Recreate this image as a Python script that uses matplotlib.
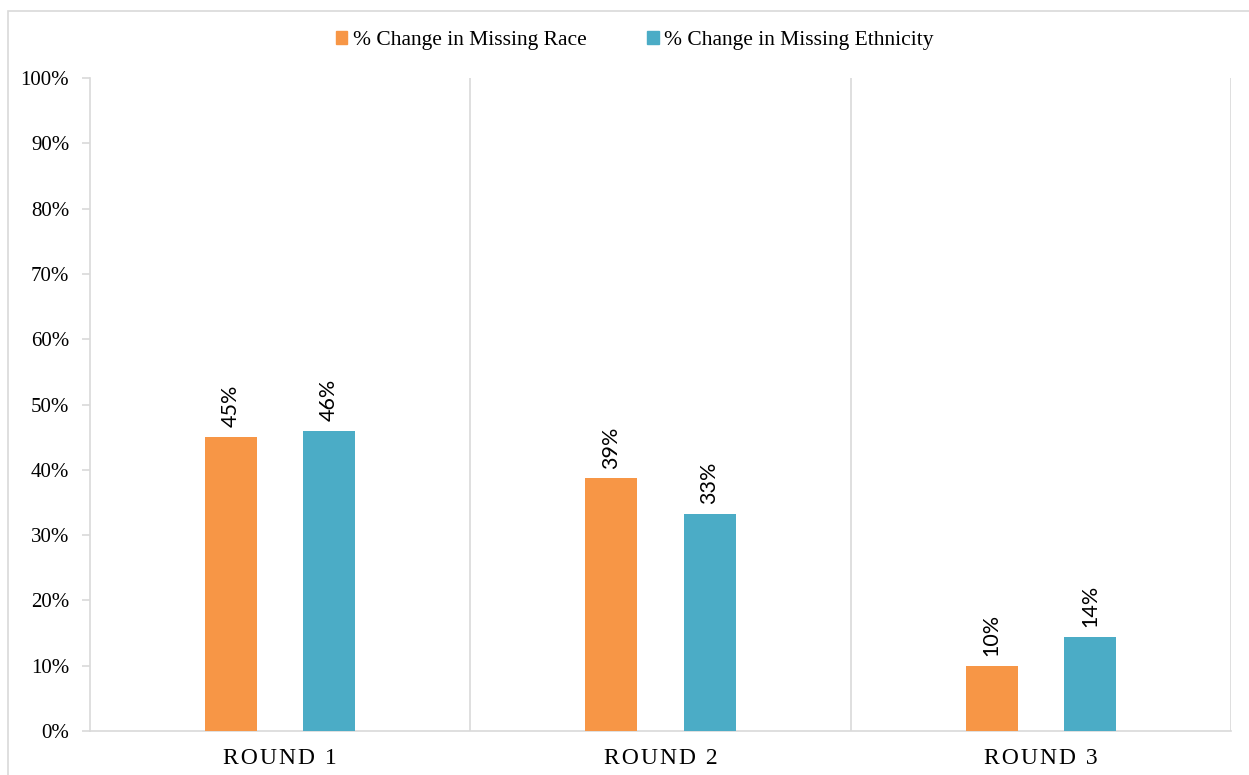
import numpy as np
import matplotlib
matplotlib.use("Agg")
import matplotlib.pyplot as plt
from matplotlib.patches import Patch, Rectangle
from matplotlib.ticker import MultipleLocator, FuncFormatter

# percentage change by round
rounds = ["ROUND 1", "ROUND 2", "ROUND 3"]
missing_race = [45.0, 38.7, 10.0]
missing_ethnicity = [46.0, 33.3, 14.4]
series_names = ["% Change in Missing Race", "% Change in Missing Ethnicity"]

orange = "#F79646"
teal = "#4BACC6"
grid_grey = "#D9D9D9"

plt.rcParams["font.family"] = ["Liberation Serif", "DejaVu Serif"]

fig = plt.figure(figsize=(12.49, 7.75), dpi=100)
ax = fig.add_axes([90 / 1249, 44 / 775, (1231 - 90) / 1249, (731 - 78) / 775])

x = np.arange(len(rounds)) + 0.5
width = 0.137
offset = 0.129

bars1 = ax.bar(x - offset, missing_race, width, color=orange, zorder=3)
bars2 = ax.bar(x + offset, missing_ethnicity, width, color=teal, zorder=3)

# value labels, rotated like the excel chart
for bars in (bars1, bars2):
    for b in bars:
        h = b.get_height()
        ax.annotate("{:.0f}%".format(h), (b.get_x() + b.get_width() / 2, h),
                    xytext=(0, 7), textcoords="offset points",
                    rotation=90, ha="center", va="bottom",
                    fontsize=15.5, family="Lato", color="black")

# category separators
for sep in range(1, len(rounds) + 1):
    ax.axvline(sep, color=grid_grey, lw=1.2, zorder=1)

# spaced-out category labels
spaced = ["\u200a".join(r) for r in rounds]

ax.set_xlim(0, len(rounds))
ax.set_ylim(0, 100)
ax.yaxis.set_major_locator(MultipleLocator(10))
ax.yaxis.set_major_formatter(FuncFormatter(lambda v, p: "{:.0f}%".format(v)))
ax.set_xticks(x)
ax.set_xticklabels(spaced, fontsize=17)
ax.tick_params(axis="x", length=0, pad=12)
ax.tick_params(axis="y", length=6, width=1.2, color=grid_grey, labelsize=15, pad=9)

for side in ("top", "right"):
    ax.spines[side].set_visible(False)
for side in ("left", "bottom"):
    ax.spines[side].set_color(grid_grey)
    ax.spines[side].set_linewidth(1.2)

handles = [Patch(color=orange), Patch(color=teal)]
fig.legend(handles, series_names, loc="center", bbox_to_anchor=(0.508, 0.948),
           ncol=2, frameon=False, fontsize=15.5, handlelength=0.55,
           handleheight=0.55, handletextpad=0.25, columnspacing=2.8)

# outer chart border
fig.patches.append(Rectangle((8 / 1249, -0.1), 1.2, 1.1 - 11 / 775,
                             transform=fig.transFigure, fill=False,
                             edgecolor=grid_grey, lw=1.2))

fig.savefig("out.png", dpi=100, facecolor="white")
